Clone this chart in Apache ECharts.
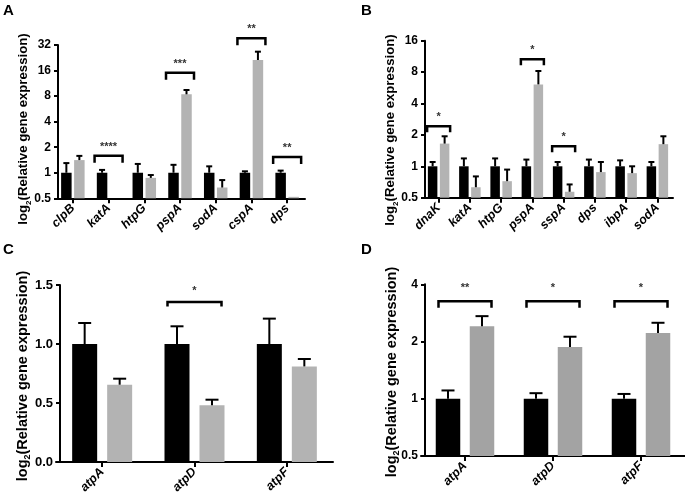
<!DOCTYPE html>
<html><head><meta charset="utf-8">
<script src="https://cdn.jsdelivr.net/npm/echarts@6/dist/echarts.min.js"></script>
<style>html,body{margin:0;padding:0;background:#fff}#c{width:685px;height:499px}</style>
</head><body><div id="c"></div><script>
// ---------- Panel A ----------
const catsA = ['clpB','katA','htpG','pspA','sodA','cspA','dps'];
const ctrlA = [1,1,1,1,1,1,1];
const ctrlErrA = [1.30,1.08,1.27,1.24,1.19,1.04,1.06];
const treatA = [1.41,0.5,0.87,8.4,0.67,21.3,0.52];
const treatErrA = [1.58,null,0.94,9.44,0.82,26.7,null];
const sigIdxA = [1,3,5,6];
const sigTopA = [1.59,15.1,38.4,1.53];
const sigStarA = ['****','***','**','**'];
const ticksA = [0.5,1,2,4,8,16,32];
// ---------- Panel B ----------
const catsB = ['dnaK','katA','htpG','pspA','sspA','dps','ibpA','sodA'];
const ctrlB = [1,1,1,1,1,1,1,1];
const ctrlErrB = [1.1,1.19,1.19,1.16,1.1,1.16,1.14,1.1];
const treatB = [1.65,0.63,0.72,6.1,0.57,0.88,0.86,1.63];
const treatErrB = [1.94,0.8,0.93,8.2,0.67,1.1,1.0,1.94];
const sigIdxB = [0,3,4];
const sigTopB = [2.42,10.6,1.56];
const sigStarB = ['*','*','*'];
const ticksB = [0.5,1,2,4,8,16];
// ---------- Panel C ----------
const catsC = ['atpA','atpD','atpF'];
const ctrlC = [1,1,1];
const ctrlErrC = [1.178,1.15,1.215];
const treatC = [0.655,0.48,0.81];
const treatErrC = [0.706,0.528,0.873];
const sigIdxC = [1];
const sigTopC = [1.356];
const sigStarC = ['*'];
const ticksC = [0,0.5,1.0,1.5];
// ---------- Panel D ----------
const catsD = ['atpA','atpD','atpF'];
const ctrlD = [1,1,1];
const ctrlErrD = [1.106,1.07,1.06];
const treatD = [2.41,1.87,2.22];
const treatErrD = [2.72,2.12,2.51];
const sigIdxD = [0,1,2];
const sigTopD = [3.26,3.26,3.26];
const sigStarD = ['**','*','*'];
const ticksD = [0.5,1,2,4];

const yTitleParts = ['log', '2', '(Relative gene expression)'];
const FONT = '"Liberation Sans", Arial, Helvetica, sans-serif';

const mctx = document.createElement('canvas').getContext('2d');
function textW(t, f) { mctx.font = f; return mctx.measureText(t).width; }

function barItem(off, w, color, base, cap) {
  return function (params, api) {
    const i = api.value(0), v = api.value(1), e = api.value(2);
    const p = api.coord([i, v]);
    const b = api.coord([i, base]);
    const x = p[0] + off;
    const ch = [];
    if (b[1] - p[1] > 0.3) {
      ch.push({type:'rect', shape:{x:x - w/2, y:p[1], width:w, height:b[1]-p[1]}, style:{fill:color}});
    }
    if (e != null && !isNaN(e)) {
      const t = api.coord([i, e]);
      ch.push({type:'line', shape:{x1:x, y1:p[1], x2:x, y2:t[1]}, style:{stroke:'#000', lineWidth:2}});
      ch.push({type:'line', shape:{x1:x-cap, y1:t[1], x2:x+cap, y2:t[1]}, style:{stroke:'#000', lineWidth:2}});
    }
    return {type:'group', children:ch};
  };
}
function bracketItem(hw, leg, gap, stars, fs) {
  return function (params, api) {
    const p = api.coord([api.value(0), api.value(1)]);
    const cx = p[0], y = p[1];
    return {type:'group', children:[
      {type:'polyline', shape:{points:[[cx-hw,y+leg],[cx-hw,y],[cx+hw,y],[cx+hw,y+leg]]},
       style:{stroke:'#000', lineWidth:2.5, fill:null}},
      {type:'text', style:{text:stars[params.dataIndex], x:cx, y:y-gap, align:'center', verticalAlign:'middle',
       font:'bold ' + fs + 'px ' + FONT, fill:'#333'}}
    ]};
  };
}
function yTitleGraphic(cx, cy, fs) {
  const fMain = 'bold ' + fs + 'px ' + FONT;
  const fSub = 'bold ' + Math.round(fs * 0.62) + 'px ' + FONT;
  const w0 = textW(yTitleParts[0], fMain), w1 = textW(yTitleParts[1], fSub), w2 = textW(yTitleParts[2], fMain);
  const x0 = -(w0 + w1 + w2) / 2;
  return {type:'group', x:cx, y:cy, rotation:Math.PI/2, silent:true, children:[
    {type:'text', style:{text:yTitleParts[0], x:x0, y:0, font:fMain, fill:'#000', align:'left', verticalAlign:'middle'}},
    {type:'text', style:{text:yTitleParts[1], x:x0 + w0, y:fs * 0.38, font:fSub, fill:'#000', align:'left', verticalAlign:'middle'}},
    {type:'text', style:{text:yTitleParts[2], x:x0 + w0 + w1, y:0, font:fMain, fill:'#000', align:'left', verticalAlign:'middle'}}
  ]};
}
const axLine = {show:true, lineStyle:{color:'#000', width:2}};
const axTick = {show:true, length:4, lineStyle:{color:'#000', width:2}};
function xAx(gi, cats, fs) {
  return {type:'category', gridIndex:gi, data:cats,
    axisLine:axLine, axisTick:{show:true, alignWithLabel:true, length:5, lineStyle:{color:'#000', width:2}},
    axisLabel:{rotate:45, fontSize:fs, fontWeight:'bold', fontStyle:'italic', color:'#000', fontFamily:FONT, margin:8},
    splitLine:{show:false}};
}
function yAx(gi, fs, extra) {
  return Object.assign({gridIndex:gi, axisLine:axLine, axisTick:axTick, splitLine:{show:false},
    axisLabel:{fontSize:fs, fontWeight:'bold', color:'#000', fontFamily:FONT, margin:7}}, extra);
}
function panelSeries(gi, cats, ctrl, ctrlErr, treat, treatErr, sigIdx, sigTop, sigStar, s) {
  return [
    {type:'custom', xAxisIndex:gi, yAxisIndex:gi, clip:false,
     renderItem:barItem(-s.off, s.w, '#000', s.base, s.cap), data:cats.map((c,i)=>[i, ctrl[i], ctrlErr[i]])},
    {type:'custom', xAxisIndex:gi, yAxisIndex:gi, clip:false,
     renderItem:barItem(s.off, s.w, s.gray, s.base, s.cap), data:cats.map((c,i)=>[i, treat[i], treatErr[i]])},
    {type:'custom', xAxisIndex:gi, yAxisIndex:gi, clip:false,
     renderItem:bracketItem(s.hw, s.leg, s.gap, sigStar, s.sfs), data:sigIdx.map((k,j)=>[k, sigTop[j]])}
  ];
}

const chart = echarts.init(document.getElementById('c'), null, {renderer:'canvas'});
chart.setOption({
  animation:false,
  backgroundColor:'#fff',
  grid:[
    {left:55, top:45, width:250, height:153.3},
    {left:423, top:40.7, width:250, height:157},
    {left:56, top:285, width:277, height:177},
    {left:421, top:284.3, width:265, height:171.7}
  ],
  xAxis:[xAx(0,catsA,12.5), xAx(1,catsB,12.5), xAx(2,catsC,12.5), xAx(3,catsD,12.5)],
  yAxis:[
    yAx(0, 12, {type:'log', logBase:2, min:ticksA[0], max:ticksA[ticksA.length-1], offset:-3}),
    yAx(1, 12, {type:'log', logBase:2, min:ticksB[0], max:ticksB[ticksB.length-1], offset:-2}),
    yAx(2, 13, {type:'value', min:ticksC[0], max:ticksC[ticksC.length-1], interval:0.5, offset:-4,
       axisLabel:{fontSize:13, fontWeight:'bold', color:'#000', fontFamily:FONT, margin:7, formatter:(v)=>v.toFixed(1)}}),
    yAx(3, 12, {type:'log', logBase:2, min:ticksD[0], max:ticksD[ticksD.length-1], offset:-4})
  ],
  series:[].concat(
    panelSeries(0, catsA, ctrlA, ctrlErrA, treatA, treatErrA, sigIdxA, sigTopA, sigStarA,
      {off:6.5, w:10.5, base:0.5, cap:3, gray:'#b3b3b3', hw:14, leg:7, gap:9, sfs:11}),
    panelSeries(1, catsB, ctrlB, ctrlErrB, treatB, treatErrB, sigIdxB, sigTopB, sigStarB,
      {off:6, w:9.5, base:0.5, cap:3, gray:'#b3b3b3', hw:11.5, leg:6, gap:9, sfs:11}),
    panelSeries(2, catsC, ctrlC, ctrlErrC, treatC, treatErrC, sigIdxC, sigTopC, sigStarC,
      {off:17.5, w:25, base:0, cap:6.5, gray:'#b3b3b3', hw:27, leg:4.5, gap:11, sfs:11}),
    panelSeries(3, catsD, ctrlD, ctrlErrD, treatD, treatErrD, sigIdxD, sigTopD, sigStarD,
      {off:17, w:24.5, base:0.5, cap:6.5, gray:'#a3a3a3', hw:26.5, leg:6.5, gap:13, sfs:11})
  ),
  graphic:[
    {type:'text', left:3, top:3, style:{text:'A', font:'bold 15px ' + FONT, fill:'#000'}},
    {type:'text', left:361, top:3, style:{text:'B', font:'bold 15px ' + FONT, fill:'#000'}},
    {type:'text', left:3, top:242, style:{text:'C', font:'bold 15px ' + FONT, fill:'#000'}},
    {type:'text', left:361, top:242, style:{text:'D', font:'bold 15px ' + FONT, fill:'#000'}},
    yTitleGraphic(23.5, 129, 13.2),
    yTitleGraphic(390.5, 130, 13.2),
    yTitleGraphic(22.5, 376, 14.5),
    yTitleGraphic(391.5, 372, 14.5)
  ]
});
</script></body></html>
